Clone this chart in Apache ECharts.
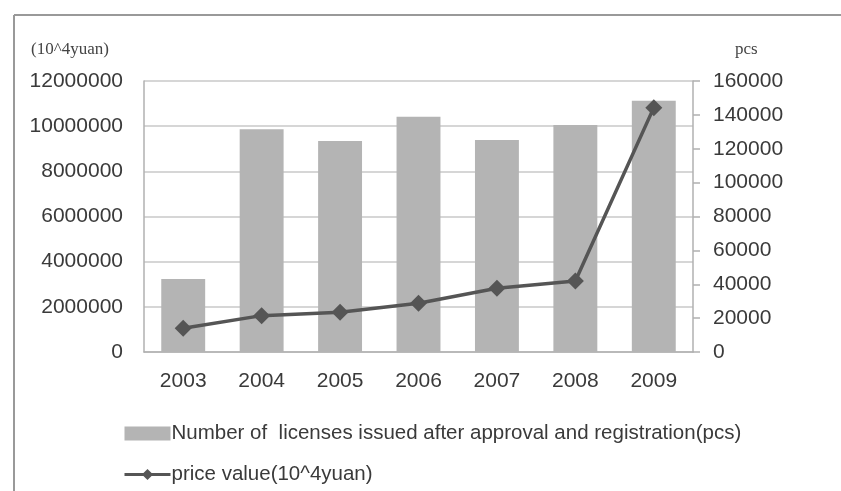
<!DOCTYPE html>
<html>
<head>
<meta charset="utf-8">
<script src="https://cdn.jsdelivr.net/npm/echarts@6/dist/echarts.min.js"></script>
<style>
html, body { margin: 0; padding: 0; background: #fff; }
#chart { width: 841px; height: 491px; }
</style>
</head>
<body>
<div id="chart"></div>
<script>
var years = ['2003', '2004', '2005', '2006', '2007', '2008', '2009']
// licenses issued (pcs) - right axis
var licenses = [43100, 131500, 124600, 138900, 125200, 134000, 148400]
// price value (10^4 yuan) - left axis
var priceValue = [1050000, 1610000, 1760000, 2160000, 2820000, 3140000, 10820000]

var barName = 'Number of  licenses issued after approval and registration(pcs)'
var lineName = 'price value(10^4yuan)'

var labelFont = { color: '#3a3a3a', fontSize: 21, fontFamily: 'Liberation Sans' }
var plain = function(v) { return String(v) }

var chart = echarts.init(document.getElementById('chart'))
var option = {
  animation: false,
  grid: { left: 144, right: 148, top: 81, bottom: 139 },
  legend: {
    orient: 'vertical',
    left: 118,
    top: 418,
    itemWidth: 46,
    itemHeight: 14,
    itemGap: 20,
    lineStyle: { width: 3 },
    textStyle: { color: '#3a3a3a', fontSize: 20.5, fontFamily: 'Liberation Sans', padding: [0, 0, 0, -4] },
    data: [
      { name: barName, icon: 'rect' },
      { name: lineName }
    ]
  },
  graphic: [
    { type: 'line', shape: { x1: 14, y1: 15, x2: 841, y2: 15 }, style: { stroke: '#999', lineWidth: 2 } },
    { type: 'line', shape: { x1: 14, y1: 15, x2: 14, y2: 491 }, style: { stroke: '#999', lineWidth: 2 } },
    { type: 'text', left: 31, top: 41, style: { text: '(10^4yuan)', fill: '#444', font: '17px "Liberation Serif"' } },
    { type: 'text', left: 735, top: 41, style: { text: 'pcs', fill: '#444', font: '17px "Liberation Serif"' } }
  ],
  xAxis: {
    type: 'category',
    data: years,
    axisLine: { lineStyle: { color: '#b0b0b0', width: 1.5 } },
    axisTick: { show: false },
    axisLabel: Object.assign({ margin: 19 }, labelFont)
  },
  yAxis: [
    {
      type: 'value',
      min: 0,
      max: 12000000,
      interval: 2000000,
      axisLine: { show: true, lineStyle: { color: '#b0b0b0', width: 1.5 } },
      axisTick: { show: false },
      axisLabel: Object.assign({ margin: 21, formatter: plain }, labelFont),
      splitLine: { lineStyle: { color: '#c8c8c8', width: 1.5 } }
    },
    {
      type: 'value',
      min: 0,
      max: 160000,
      interval: 20000,
      position: 'right',
      axisLine: { show: true, lineStyle: { color: '#b0b0b0', width: 1.5 } },
      axisTick: { show: true, length: 7, lineStyle: { color: '#b0b0b0', width: 1.5 } },
      axisLabel: Object.assign({ margin: 20, formatter: plain }, labelFont),
      splitLine: { show: false }
    }
  ],
  series: [
    {
      name: barName,
      type: 'bar',
      yAxisIndex: 1,
      barWidth: '56%',
      itemStyle: { color: '#b4b4b4' },
      data: licenses
    },
    {
      name: lineName,
      type: 'line',
      yAxisIndex: 0,
      symbol: 'diamond',
      symbolSize: 17,
      itemStyle: { color: '#555555' },
      lineStyle: { color: '#555555', width: 3.5 },
      data: priceValue
    }
  ]
}
chart.setOption(option)
</script>
</body>
</html>
